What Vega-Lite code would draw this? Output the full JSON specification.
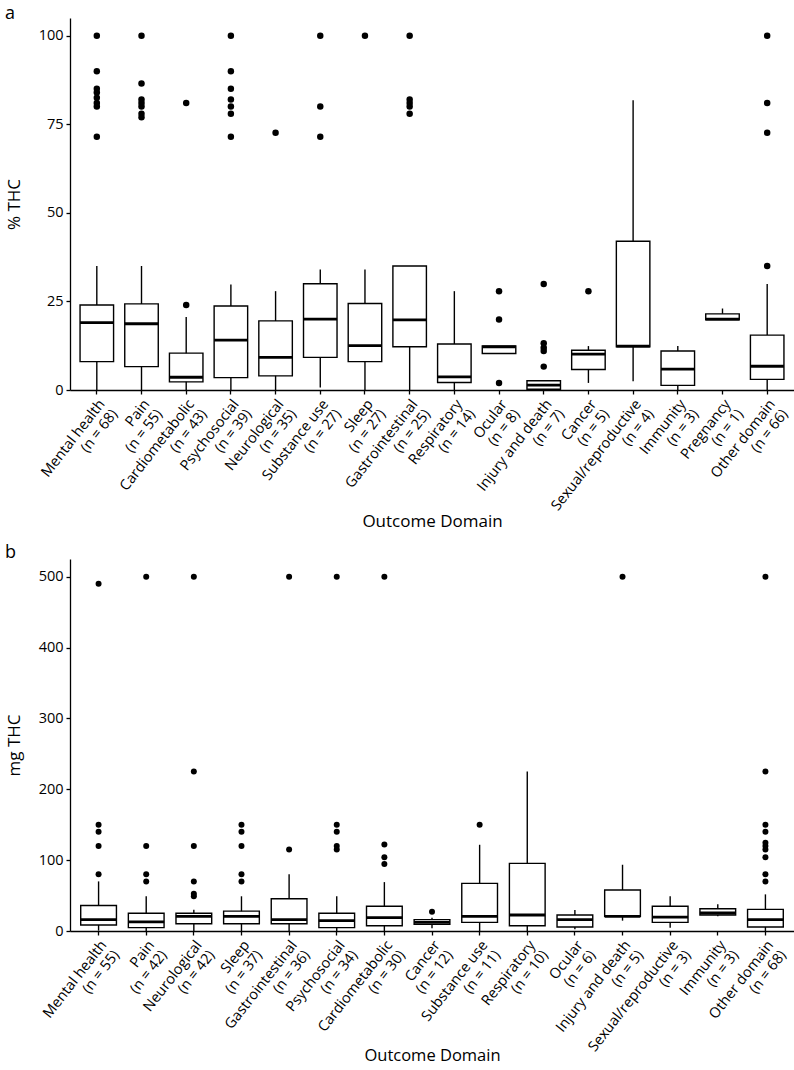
{
  "$schema": "https://vega.github.io/schema/vega-lite/v6.json",
  "padding": {"left": 5, "top": 5, "right": 0, "bottom": 0},
  "spacing": 14,
  "config": {
    "font": "Open Sans",
    "view": {"stroke": null},
    "axis": {"domainColor": "black", "tickColor": "black", "labelColor": "black", "titleColor": "black", "grid": false, "labelFontSize": 14.5, "titleFontSize": 17, "titleFontWeight": "normal", "tickSize": 4, "domainWidth": 1.3, "tickWidth": 1.3, "labelPadding": 3},
    "title": {"fontSize": 18, "fontWeight": "normal", "color": "black"}
  },
  "resolve": {"scale": {"x": "independent", "y": "independent"}},
  "datasets": {
    "boxA": [
      {"domain": "Mental health\n(n = 68)", "lo": 0, "q1": 8.0, "med": 19.0, "q3": 24.0, "hi": 35.0},
      {"domain": "Pain\n(n = 55)", "lo": 0, "q1": 6.6, "med": 18.7, "q3": 24.3, "hi": 35.0},
      {"domain": "Cardiometabolic\n(n = 43)", "lo": 0, "q1": 2.3, "med": 3.6, "q3": 10.4, "hi": 20.6},
      {"domain": "Psychosocial\n(n = 39)", "lo": 0, "q1": 3.5, "med": 14.1, "q3": 23.7, "hi": 29.8},
      {"domain": "Neurological\n(n = 35)", "lo": 0, "q1": 4.0, "med": 9.2, "q3": 19.5, "hi": 27.9},
      {"domain": "Substance use\n(n = 27)", "lo": 0.7, "q1": 9.2, "med": 20.0, "q3": 30.0, "hi": 34.0},
      {"domain": "Sleep\n(n = 27)", "lo": 0, "q1": 8.0, "med": 12.5, "q3": 24.4, "hi": 34.0},
      {"domain": "Gastrointestinal\n(n = 25)", "lo": 0, "q1": 12.2, "med": 19.8, "q3": 35.0, "hi": 35.0},
      {"domain": "Respiratory\n(n = 14)", "lo": 0, "q1": 2.1, "med": 3.7, "q3": 13.0, "hi": 27.9},
      {"domain": "Ocular\n(n = 8)", "lo": 10.3, "q1": 10.3, "med": 12.2, "q3": 12.4, "hi": 12.4},
      {"domain": "Injury and death\n(n = 7)", "lo": 0, "q1": 0.2, "med": 1.4, "q3": 2.6, "hi": 2.6},
      {"domain": "Cancer\n(n = 5)", "lo": 2.0, "q1": 5.8, "med": 10.1, "q3": 11.2, "hi": 12.4},
      {"domain": "Sexual/reproductive\n(n = 4)", "lo": 2.5, "q1": 12.2, "med": 12.4, "q3": 42.0, "hi": 81.8},
      {"domain": "Immunity\n(n = 3)", "lo": 0, "q1": 1.3, "med": 5.9, "q3": 11.0, "hi": 12.4},
      {"domain": "Pregnancy\n(n = 1)", "lo": 19.8, "q1": 19.8, "med": 20.0, "q3": 21.5, "hi": 23.0},
      {"domain": "Other domain\n(n = 66)", "lo": 0, "q1": 3.0, "med": 6.7, "q3": 15.5, "hi": 29.9}
    ],
    "outA": [
      {"domain": "Mental health\n(n = 68)", "value": 100}, {"domain": "Mental health\n(n = 68)", "value": 90}, {"domain": "Mental health\n(n = 68)", "value": 85}, {"domain": "Mental health\n(n = 68)", "value": 84}, {"domain": "Mental health\n(n = 68)", "value": 82.5}, {"domain": "Mental health\n(n = 68)", "value": 81}, {"domain": "Mental health\n(n = 68)", "value": 80}, {"domain": "Mental health\n(n = 68)", "value": 71.5},
      {"domain": "Pain\n(n = 55)", "value": 100}, {"domain": "Pain\n(n = 55)", "value": 86.5}, {"domain": "Pain\n(n = 55)", "value": 82}, {"domain": "Pain\n(n = 55)", "value": 81}, {"domain": "Pain\n(n = 55)", "value": 80}, {"domain": "Pain\n(n = 55)", "value": 78}, {"domain": "Pain\n(n = 55)", "value": 77},
      {"domain": "Cardiometabolic\n(n = 43)", "value": 81}, {"domain": "Cardiometabolic\n(n = 43)", "value": 24},
      {"domain": "Psychosocial\n(n = 39)", "value": 100}, {"domain": "Psychosocial\n(n = 39)", "value": 90}, {"domain": "Psychosocial\n(n = 39)", "value": 85}, {"domain": "Psychosocial\n(n = 39)", "value": 82}, {"domain": "Psychosocial\n(n = 39)", "value": 80}, {"domain": "Psychosocial\n(n = 39)", "value": 78}, {"domain": "Psychosocial\n(n = 39)", "value": 71.5},
      {"domain": "Neurological\n(n = 35)", "value": 72.6},
      {"domain": "Substance use\n(n = 27)", "value": 100}, {"domain": "Substance use\n(n = 27)", "value": 80}, {"domain": "Substance use\n(n = 27)", "value": 71.5},
      {"domain": "Sleep\n(n = 27)", "value": 100},
      {"domain": "Gastrointestinal\n(n = 25)", "value": 100}, {"domain": "Gastrointestinal\n(n = 25)", "value": 82}, {"domain": "Gastrointestinal\n(n = 25)", "value": 81}, {"domain": "Gastrointestinal\n(n = 25)", "value": 80}, {"domain": "Gastrointestinal\n(n = 25)", "value": 78},
      {"domain": "Ocular\n(n = 8)", "value": 27.9}, {"domain": "Ocular\n(n = 8)", "value": 19.9}, {"domain": "Ocular\n(n = 8)", "value": 2.0},
      {"domain": "Injury and death\n(n = 7)", "value": 29.9}, {"domain": "Injury and death\n(n = 7)", "value": 13.2}, {"domain": "Injury and death\n(n = 7)", "value": 11.9}, {"domain": "Injury and death\n(n = 7)", "value": 11.0}, {"domain": "Injury and death\n(n = 7)", "value": 6.6},
      {"domain": "Cancer\n(n = 5)", "value": 27.9},
      {"domain": "Other domain\n(n = 66)", "value": 100}, {"domain": "Other domain\n(n = 66)", "value": 81}, {"domain": "Other domain\n(n = 66)", "value": 72.6}, {"domain": "Other domain\n(n = 66)", "value": 35}
    ],
    "boxB": [
      {"domain": "Mental health\n(n = 55)", "lo": 0.5, "q1": 8.5, "med": 16, "q3": 36, "hi": 70},
      {"domain": "Pain\n(n = 42)", "lo": 0, "q1": 4.7, "med": 13, "q3": 25, "hi": 49},
      {"domain": "Neurological\n(n = 42)", "lo": 0, "q1": 10.3, "med": 20.7, "q3": 25, "hi": 30},
      {"domain": "Sleep\n(n = 37)", "lo": 0, "q1": 10.3, "med": 20.7, "q3": 28, "hi": 49},
      {"domain": "Gastrointestinal\n(n = 36)", "lo": 0, "q1": 10.3, "med": 16, "q3": 45.6, "hi": 80},
      {"domain": "Psychosocial\n(n = 34)", "lo": 0, "q1": 4.7, "med": 14.6, "q3": 25, "hi": 49},
      {"domain": "Cardiometabolic\n(n = 30)", "lo": 0, "q1": 7.5, "med": 18.8, "q3": 35, "hi": 69},
      {"domain": "Cancer\n(n = 12)", "lo": 3.8, "q1": 9.4, "med": 12.2, "q3": 16, "hi": 18.8},
      {"domain": "Substance use\n(n = 11)", "lo": 0, "q1": 12.2, "med": 20.7, "q3": 67.2, "hi": 121.7},
      {"domain": "Respiratory\n(n = 10)", "lo": 0, "q1": 7.5, "med": 22.6, "q3": 95.4, "hi": 225},
      {"domain": "Ocular\n(n = 6)", "lo": 2.3, "q1": 5.6, "med": 16, "q3": 22.6, "hi": 29.6},
      {"domain": "Injury and death\n(n = 5)", "lo": 14.6, "q1": 20.7, "med": 20.7, "q3": 57.8, "hi": 93.5},
      {"domain": "Sexual/reproductive\n(n = 3)", "lo": 4.7, "q1": 12.2, "med": 19.7, "q3": 35, "hi": 49},
      {"domain": "Immunity\n(n = 3)", "lo": 20.7, "q1": 22.6, "med": 25.4, "q3": 31.5, "hi": 37.6},
      {"domain": "Other domain\n(n = 68)", "lo": 0, "q1": 5.6, "med": 16, "q3": 30.5, "hi": 51.7}
    ],
    "outB": [
      {"domain": "Mental health\n(n = 55)", "value": 490}, {"domain": "Mental health\n(n = 55)", "value": 150}, {"domain": "Mental health\n(n = 55)", "value": 140}, {"domain": "Mental health\n(n = 55)", "value": 120}, {"domain": "Mental health\n(n = 55)", "value": 80},
      {"domain": "Pain\n(n = 42)", "value": 500}, {"domain": "Pain\n(n = 42)", "value": 120}, {"domain": "Pain\n(n = 42)", "value": 80}, {"domain": "Pain\n(n = 42)", "value": 70},
      {"domain": "Neurological\n(n = 42)", "value": 500}, {"domain": "Neurological\n(n = 42)", "value": 225}, {"domain": "Neurological\n(n = 42)", "value": 120}, {"domain": "Neurological\n(n = 42)", "value": 70}, {"domain": "Neurological\n(n = 42)", "value": 52.6}, {"domain": "Neurological\n(n = 42)", "value": 49},
      {"domain": "Sleep\n(n = 37)", "value": 150}, {"domain": "Sleep\n(n = 37)", "value": 140}, {"domain": "Sleep\n(n = 37)", "value": 120}, {"domain": "Sleep\n(n = 37)", "value": 80}, {"domain": "Sleep\n(n = 37)", "value": 70},
      {"domain": "Gastrointestinal\n(n = 36)", "value": 500}, {"domain": "Gastrointestinal\n(n = 36)", "value": 115},
      {"domain": "Psychosocial\n(n = 34)", "value": 500}, {"domain": "Psychosocial\n(n = 34)", "value": 150}, {"domain": "Psychosocial\n(n = 34)", "value": 140}, {"domain": "Psychosocial\n(n = 34)", "value": 120}, {"domain": "Psychosocial\n(n = 34)", "value": 115},
      {"domain": "Cardiometabolic\n(n = 30)", "value": 500}, {"domain": "Cardiometabolic\n(n = 30)", "value": 122}, {"domain": "Cardiometabolic\n(n = 30)", "value": 104}, {"domain": "Cardiometabolic\n(n = 30)", "value": 94.5},
      {"domain": "Cancer\n(n = 12)", "value": 27.3},
      {"domain": "Substance use\n(n = 11)", "value": 150},
      {"domain": "Injury and death\n(n = 5)", "value": 500},
      {"domain": "Other domain\n(n = 68)", "value": 500}, {"domain": "Other domain\n(n = 68)", "value": 225}, {"domain": "Other domain\n(n = 68)", "value": 150}, {"domain": "Other domain\n(n = 68)", "value": 140}, {"domain": "Other domain\n(n = 68)", "value": 124.5}, {"domain": "Other domain\n(n = 68)", "value": 120}, {"domain": "Other domain\n(n = 68)", "value": 115}, {"domain": "Other domain\n(n = 68)", "value": 104}, {"domain": "Other domain\n(n = 68)", "value": 80}, {"domain": "Other domain\n(n = 68)", "value": 70}
    ]
  },
  "vconcat": [
    {
      "width": 724,
      "height": 372,
      "title": {"text": "a", "anchor": "start", "frame": "group", "dx": -65, "offset": -5},
      "encoding": {
        "x": {"field": "domain", "type": "nominal", "sort": null,
          "scale": {"paddingInner": 0, "paddingOuter": 0.1},
          "axis": {"title": "Outcome Domain", "labelAngle": -52, "labelAlign": "right", "labelBaseline": "top", "labelExpr": "split(datum.label, '\\n')", "labelLineHeight": 16, "labelOverlap": false, "titlePadding": -9}}
      },
      "layer": [
        {
          "data": {"name": "boxA"},
          "mark": {"type": "rule", "color": "black", "strokeWidth": 1.4},
          "encoding": {
            "y": {"field": "lo", "type": "quantitative", "scale": {"domain": [0, 105], "nice": false}, "axis": {"title": "% THC", "values": [0, 25, 50, 75, 100], "titlePadding": 15}},
            "y2": {"field": "hi"}
          }
        },
        {
          "data": {"name": "boxA"},
          "mark": {"type": "bar", "width": {"band": 0.75}, "fill": "white", "stroke": "black", "strokeWidth": 1.4},
          "encoding": {"y": {"field": "q1", "type": "quantitative"}, "y2": {"field": "q3"}}
        },
        {
          "data": {"name": "boxA"},
          "mark": {"type": "tick", "color": "black", "opacity": 1, "size": 33.5, "thickness": 2.8},
          "encoding": {"y": {"field": "med", "type": "quantitative"}}
        },
        {
          "data": {"name": "outA"},
          "mark": {"type": "point", "filled": true, "color": "black", "opacity": 1, "size": 42},
          "encoding": {"y": {"field": "value", "type": "quantitative"}}
        }
      ]
    },
    {
      "width": 724,
      "height": 372,
      "title": {"text": "b", "anchor": "start", "frame": "group", "dx": -65, "offset": -3},
      "encoding": {
        "x": {"field": "domain", "type": "nominal", "sort": null,
          "scale": {"paddingInner": 0, "paddingOuter": 0.1},
          "axis": {"title": "Outcome Domain", "titleFontSize": 16.5, "labelAngle": -52, "labelAlign": "right", "labelBaseline": "top", "labelExpr": "split(datum.label, '\\n')", "labelLineHeight": 16, "labelOverlap": false, "titlePadding": -16}}
      },
      "layer": [
        {
          "data": {"name": "boxB"},
          "mark": {"type": "rule", "color": "black", "strokeWidth": 1.4},
          "encoding": {
            "y": {"field": "lo", "type": "quantitative", "scale": {"domain": [0, 525], "nice": false}, "axis": {"title": "mg THC", "values": [0, 100, 200, 300, 400, 500], "titlePadding": 15}},
            "y2": {"field": "hi"}
          }
        },
        {
          "data": {"name": "boxB"},
          "mark": {"type": "bar", "width": {"band": 0.75}, "fill": "white", "stroke": "black", "strokeWidth": 1.4},
          "encoding": {"y": {"field": "q1", "type": "quantitative"}, "y2": {"field": "q3"}}
        },
        {
          "data": {"name": "boxB"},
          "mark": {"type": "tick", "color": "black", "opacity": 1, "size": 35.8, "thickness": 2.8},
          "encoding": {"y": {"field": "med", "type": "quantitative"}}
        },
        {
          "data": {"name": "outB"},
          "mark": {"type": "point", "filled": true, "color": "black", "opacity": 1, "size": 36},
          "encoding": {"y": {"field": "value", "type": "quantitative"}}
        }
      ]
    }
  ]
}
